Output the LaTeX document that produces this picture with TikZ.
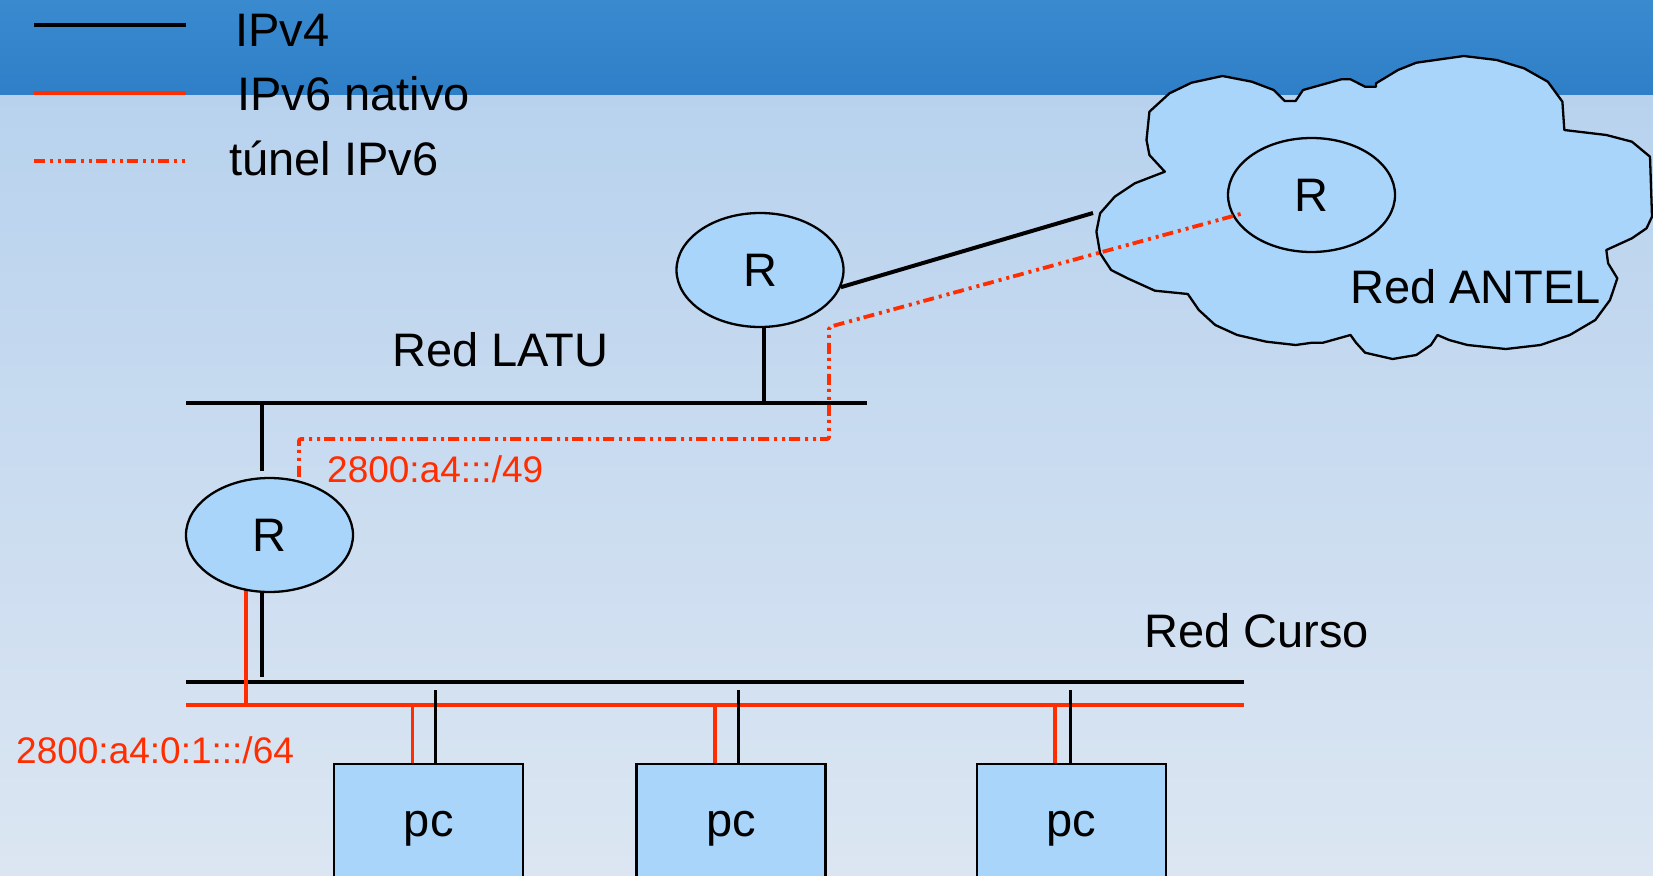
\documentclass[tikz,border=0pt]{standalone}
\usepackage{fontspec}
\setmainfont{Liberation Sans}
\usetikzlibrary{shapes.geometric,calc}
\definecolor{hdrtop}{HTML}{3A8AD0}
\definecolor{hdrbot}{HTML}{2F7FC8}
\definecolor{bgtop}{HTML}{B8D2EE}
\definecolor{bgbot}{HTML}{DCE6F2}
\definecolor{nodefill}{HTML}{A9D5FB}
\definecolor{v6red}{HTML}{FF2D00}
\pgfdeclarelayer{bg}\pgfdeclarelayer{lines}\pgfdeclarelayer{front}
\pgfsetlayers{bg,lines,main,front}
\tikzset{
  big/.style={font=\fontsize{47}{56}\selectfont, inner sep=0pt, anchor=base west},
  addr/.style={font=\fontsize{37}{44}\selectfont, text=v6red, inner sep=0pt, anchor=base west},
  router/.style={ellipse, draw=black, line width=2.3pt, fill=nodefill, minimum width=167pt, minimum height=114pt, inner sep=0pt, font=\fontsize{47}{56}\selectfont},
  pcbox/.style={rectangle, draw=black, line width=2.3pt, fill=nodefill, minimum width=189pt, minimum height=130pt, inner sep=0pt, font=\fontsize{47}{56}\selectfont},
  ipv4/.style={draw=black, line width=3.5pt},
  ipv6/.style={draw=v6red, line width=3.5pt},
  busline/.style={line width=4pt},
  tunnel/.style={draw=v6red, line width=3.8pt, dash pattern=on 11pt off 5pt on 3pt off 5pt on 3pt off 4pt, rounded corners=2pt},
  cloudshape/.style={draw=black, line width=2.3pt, fill=nodefill, line join=round},
}
\begin{document}
\begin{tikzpicture}[x=1pt,y=-1pt]
\useasboundingbox (0,0) rectangle (1653,875);
\begin{pgfonlayer}{bg}
\shade[top color=hdrtop,bottom color=hdrbot] (0,0) rectangle (1653,95);
\shade[top color=bgtop,bottom color=bgbot] (0,95) rectangle (1653,875);
\end{pgfonlayer}

% cloud
\draw[cloudshape] (1149.4,111.7) -- (1146.5,140) -- (1149.4,155) -- (1164.8,171.7) -- (1134.8,183.3) -- (1114.7,196.7) -- (1100.1,213.3) -- (1096.4,231.7) -- (1100.1,253.3) -- (1111.1,270) -- (1127.5,278.3) -- (1154.9,290.7) -- (1187.8,294) -- (1198.8,310) -- (1215.2,325) -- (1237.2,335) -- (1266.4,341.7) -- (1295.6,345) -- (1312.1,342.7) -- (1323,342.7) -- (1350.5,335) -- (1356,342.7) -- (1365.1,352.7) -- (1392.5,359) -- (1416.3,355) -- (1430.9,345) -- (1437.5,335) -- (1449.1,340) -- (1467.4,345) -- (1505.8,349) -- (1540.5,345) -- (1569.8,335) -- (1595.3,320) -- (1610,300) -- (1617.3,278.3) -- (1608.1,263.3) -- (1606.3,250) -- (1631.9,238.3) -- (1646.5,228.3) -- (1652,216.7) -- (1650,156.7) -- (1631.9,141.7) -- (1606.3,135) -- (1564.3,130) -- (1562.4,101.7) -- (1547.8,81.7) -- (1524,68.3) -- (1496.7,60) -- (1463.8,56) -- (1416.3,62.7) -- (1398,70) -- (1376,83.3) -- (1376,86.7) -- (1365.1,86.7) -- (1350.5,79.3) -- (1341.3,79.3) -- (1303,90) -- (1295.6,101) -- (1284.7,101) -- (1273.7,90) -- (1251.8,81.7) -- (1222.5,76) -- (1191.5,82.7) -- (1169.5,93.3) -- cycle;

% legend
\coordinate (l1a) at (34,25);  \coordinate (l1b) at (186,25);
\coordinate (l2a) at (34,93);  \coordinate (l2b) at (186,93);
\coordinate (l3a) at (34,161); \coordinate (l3b) at (186,161);
\node[big] (lgv4) at (235,47) {IPv4};
\node[big] (lgv6) at (237,110) {IPv6 nativo};
\node[big] (lgtun) at (229,175) {túnel IPv6};

% nodes
\node[router] (rtop) at (760,270) {R};
\node[router] (rbot) at (269.5,535) {R};
\node[router] (rcloud) at (1311.5,195) {R};
\node[pcbox] (pc1) at (428.7,829) {pc};
\node[pcbox] (pc2) at (731,829) {pc};
\node[pcbox] (pc3) at (1071.5,829) {pc};

% labels
\node[big] (latu) at (392,366) {Red LATU};
\node[big] (curso) at (1144,647) {Red Curso};
\node[big] (antel) at (1350,303) {Red ANTEL};
\node[addr] (a49) at (327,482) {2800:a4:::/49};
\node[addr] (a64) at (16,763) {2800:a4:0:1:::/64};

% bus and connector coordinates
\coordinate (latuL) at (186,403);  \coordinate (latuR) at (867,403);
\coordinate (cursoL) at (186,682); \coordinate (cursoR) at (1244,682);
\coordinate (v6L) at (186,705);    \coordinate (v6R) at (1244,705);
\coordinate (rtopdrop) at (764,403);
\coordinate (rbotup) at (262,471);
\coordinate (rbotdn) at (262,677);
\coordinate (rbotv6) at (246,705);
\coordinate (cloudedge) at (1093,213);
\coordinate (p1r) at (412.5,705); \coordinate (p1k) at (435,690);
\coordinate (p2r) at (715,705);   \coordinate (p2k) at (738,690);
\coordinate (p3r) at (1055,705);  \coordinate (p3k) at (1070,690);
\coordinate (tA) at (829,439);    \coordinate (tB) at (829,327);

\begin{pgfonlayer}{lines}
\draw[ipv4,busline] (l1a) -- (l1b);
\draw[ipv6,busline] (l2a) -- (l2b);
\draw[tunnel] (l3a) -- (l3b);
\draw[ipv4,busline] (latuL) -- (latuR);
\draw[ipv4,busline] (cursoL) -- (cursoR);
\draw[ipv6,busline] (v6L) -- (v6R);
\draw[ipv4] (rtop.center -| rtopdrop) -- (rtopdrop);
\draw[ipv4] (rbotup) -- (rbotup |- latuL);
\draw[ipv4] (rbot.center -| rbotdn) -- (rbotdn);
\draw[ipv6] (rbot.center -| rbotv6) -- (rbotv6);
\draw[ipv4,busline] (rtop.-12) -- (cloudedge);
\draw[ipv6] (p1r) -- (p1r |- pc1.north);
\draw[ipv4,line width=3pt] (p1k) -- (p1k |- pc1.north);
\draw[ipv6] (p2r) -- (p2r |- pc2.north);
\draw[ipv4,line width=3pt] (p2k) -- (p2k |- pc2.north);
\draw[ipv6] (p3r) -- (p3r |- pc3.north);
\draw[ipv4,line width=3pt] (p3k) -- (p3k |- pc3.north);
\end{pgfonlayer}

\begin{pgfonlayer}{front}
\draw[tunnel] ([xshift=29.5pt]rbot.north) |- (tA) -- (tB) -- ([shift={(-67.5,18)}]rcloud.center);
\end{pgfonlayer}
\end{tikzpicture}
\end{document}
